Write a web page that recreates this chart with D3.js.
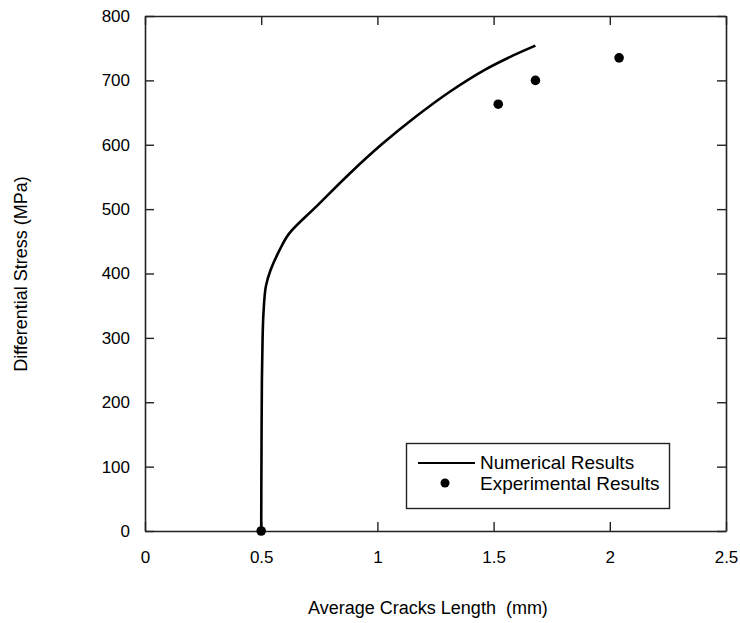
<!DOCTYPE html>
<html>
<head>
<meta charset="utf-8">
<script src="https://cdn.jsdelivr.net/npm/d3@7"></script>
<style>
  body { margin: 0; background: #fff; }
  text { font-family: "Liberation Sans", Arial, sans-serif; }
</style>
</head>
<body>
<div id="vis"></div>
<script>
// numerical curve
var crackLen = [0.5, 0.501, 0.503, 0.506, 0.51, 0.52, 0.54, 0.58, 0.62, 0.74, 0.88, 1.02, 1.17, 1.31, 1.46, 1.58, 1.68];
var stress   = [0, 100, 234, 300, 340, 380, 405, 437, 462, 505, 555, 601, 645, 682, 716, 738, 754];

// experimental points
var expLen    = [0.5, 1.52, 1.68, 2.04];
var expStress = [0, 663, 700, 735];

var xTicks = [0, 0.5, 1, 1.5, 2, 2.5];
var xTickLabels = ["0", "0.5", "1", "1.5", "2", "2.5"];
var yTicks = [0, 100, 200, 300, 400, 500, 600, 700, 800];

var width = 740;
var height = 623;
var plotLeft = 145, plotRight = 726, plotTop = 16, plotBottom = 531;

var svg = d3.select("#vis")
            .append("svg")
            .attr("width", width)
            .attr("height", height);

var x = d3.scaleLinear().domain([0, 2.5]).range([plotLeft, plotRight]);
var y = d3.scaleLinear().domain([0, 800]).range([plotBottom, plotTop]);

var axisColor = "#222";

// axes, ticks pointing inward
var xAxis = d3.axisBottom(x)
        .tickValues(xTicks)
        .tickFormat(function(d, i) { return xTickLabels[i]; })
        .tickSizeInner(-9)
        .tickSizeOuter(0)
        .tickPadding(20);

var yAxis = d3.axisLeft(y)
        .tickValues(yTicks)
        .tickSizeInner(-9)
        .tickSizeOuter(0)
        .tickPadding(15);

var gx = svg.append("g")
        .attr("transform", `translate(0, ${plotBottom})`)
        .call(xAxis);

var gy = svg.append("g")
        .attr("transform", `translate(${plotLeft}, 0)`)
        .call(yAxis);

var gxTop = svg.append("g")
        .attr("transform", `translate(0, ${plotTop})`)
        .call(d3.axisTop(x).tickValues(xTicks).tickFormat("").tickSizeInner(-9).tickSizeOuter(0));

var gyRight = svg.append("g")
        .attr("transform", `translate(${plotRight}, 0)`)
        .call(d3.axisRight(y).tickValues(yTicks).tickFormat("").tickSizeInner(-9).tickSizeOuter(0));

[gx, gy, gxTop, gyRight].forEach(function(g) {
  g.select(".domain").attr("stroke", axisColor).attr("stroke-width", 1.6);
  g.selectAll(".tick line").attr("stroke", axisColor).attr("stroke-width", 1.4);
  g.selectAll(".tick text")
    .attr("fill", "#000")
    .style("font-size", "17px")
    .style("font-family", "'Liberation Sans', Arial, sans-serif");
});

// axis titles
svg.append("text")
        .attr("x", 428)
        .attr("y", 614)
        .attr("text-anchor", "middle")
        .style("font-size", "18px")
        .style("white-space", "pre")
        .text("Average Cracks Length  (mm)");

svg.append("text")
        .attr("transform", "translate(27, 274) rotate(-90)")
        .attr("text-anchor", "middle")
        .style("font-size", "18px")
        .text("Differential Stress (MPa)");

// numerical curve
var line = d3.line()
        .x(function(d) { return x(d[0]); })
        .y(function(d) { return y(d[1]); })
        .curve(d3.curveCatmullRom.alpha(0.5));

svg.append("path")
        .datum(d3.zip(crackLen, stress))
        .attr("d", line)
        .attr("fill", "none")
        .attr("stroke", "#000")
        .attr("stroke-width", 2.6);

// experimental dots
svg.selectAll(".dot")
        .data(d3.zip(expLen, expStress))
        .enter()
        .append("circle")
        .attr("class", "dot")
        .attr("cx", function(d) { return x(d[0]); })
        .attr("cy", function(d) { return y(d[1]); })
        .attr("r", 4.8)
        .attr("fill", "#000");

// legend
var legend = svg.append("g");

legend.append("rect")
        .attr("x", 406.5)
        .attr("y", 443.5)
        .attr("width", 263)
        .attr("height", 65)
        .attr("fill", "#fff")
        .attr("stroke", axisColor)
        .attr("stroke-width", 1.4);

legend.append("line")
        .attr("x1", 418)
        .attr("x2", 475)
        .attr("y1", 463)
        .attr("y2", 463)
        .attr("stroke", "#000")
        .attr("stroke-width", 2);

legend.append("text")
        .attr("x", 480)
        .attr("y", 469)
        .style("font-size", "19px")
        .text("Numerical Results");

legend.append("circle")
        .attr("cx", 445)
        .attr("cy", 483)
        .attr("r", 4.5)
        .attr("fill", "#000");

legend.append("text")
        .attr("x", 480)
        .attr("y", 490)
        .style("font-size", "19px")
        .text("Experimental Results");
</script>
</body>
</html>
